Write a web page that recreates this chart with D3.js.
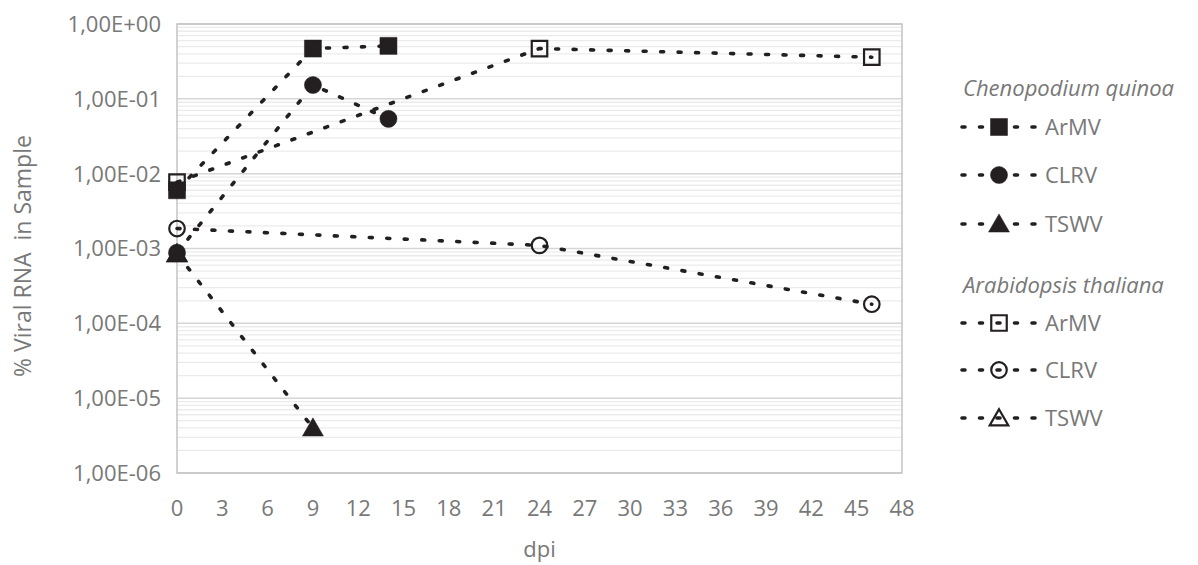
<!DOCTYPE html>
<html>
<head>
<meta charset="utf-8">
<script src="https://cdn.jsdelivr.net/npm/d3@7"></script>
<style>
  body { margin: 0; background: #fff; }
  text { font-family: "Open Sans", Lato, sans-serif; fill: #787878; }
</style>
</head>
<body>
<svg id="chart" width="1198" height="565"></svg>
<script>
// Chenopodium quinoa series
var quinoaArmvDpi = [0, 9, 14];
var quinoaArmvVal = [6.0e-3, 0.47, 0.51];
var quinoaClrvDpi = [0, 9, 14];
var quinoaClrvVal = [8.8e-4, 0.153, 0.054];
var quinoaTswvDpi = [0, 9];
var quinoaTswvVal = [8.5e-4, 4.0e-6];

// Arabidopsis thaliana series
var arabArmvDpi = [0, 24, 46];
var arabArmvVal = [7.7e-3, 0.47, 0.36];
var arabClrvDpi = [0, 24, 46];
var arabClrvVal = [1.85e-3, 1.1e-3, 1.8e-4];
var arabTswvDpi = [0];
var arabTswvVal = [8.5e-4];

// Axis ticks
var xTickValues = [0, 3, 6, 9, 12, 15, 18, 21, 24, 27, 30, 33, 36, 39, 42, 45, 48];
var yTickValues = [1, 1e-1, 1e-2, 1e-3, 1e-4, 1e-5, 1e-6];
var yTickLabels = ["1,00E+00", "1,00E-01", "1,00E-02", "1,00E-03", "1,00E-04", "1,00E-05", "1,00E-06"];

var svg = d3.select("#chart");
var plotLeft = 177, plotRight = 902, plotTop = 24, plotBottom = 473;

var x = d3.scaleLinear().domain([0, 48]).range([plotLeft, plotRight]);
var y = d3.scaleLog().domain([1e-6, 1]).range([plotBottom, plotTop]);

var ink = "#231f20";

// minor gridlines (2..9 in each decade)
var minor = [];
yTickValues.slice(0, 6).forEach(function(d) {
    for (var k = 2; k <= 9; k++) minor.push(d / 10 * k);
});
svg.append("g").selectAll("line")
    .data(minor)
  .enter().append("line")
    .attr("x1", plotLeft).attr("x2", plotRight)
    .attr("y1", function(d) { return y(d); })
    .attr("y2", function(d) { return y(d); })
    .attr("stroke", "#ebebeb")
    .attr("stroke-width", 1.3);

// major gridlines
svg.append("g").selectAll("line")
    .data(yTickValues)
  .enter().append("line")
    .attr("x1", plotLeft).attr("x2", plotRight)
    .attr("y1", function(d) { return y(d); })
    .attr("y2", function(d) { return y(d); })
    .attr("stroke", "#d6d6d6")
    .attr("stroke-width", 1.5);

// plot border
svg.append("rect")
    .attr("x", plotLeft).attr("y", plotTop)
    .attr("width", plotRight - plotLeft).attr("height", plotBottom - plotTop)
    .attr("fill", "none")
    .attr("stroke", "#c4c4c4")
    .attr("stroke-width", 1.5);

// y tick labels
svg.append("g").selectAll("text")
    .data(yTickValues)
  .enter().append("text")
    .attr("x", 161)
    .attr("y", function(d) { return y(d); })
    .attr("dy", "0.36em")
    .attr("text-anchor", "end")
    .style("font-size", "22px")
    .text(function(d, i) { return yTickLabels[i]; });

// x tick labels
svg.append("g").selectAll("text")
    .data(xTickValues)
  .enter().append("text")
    .attr("x", function(d) { return x(d); })
    .attr("y", 516)
    .attr("text-anchor", "middle")
    .style("font-size", "22px")
    .text(function(d) { return d; });

// axis titles
svg.append("text")
    .attr("x", x(24)).attr("y", 557)
    .attr("text-anchor", "middle")
    .style("font-size", "22px")
    .text("dpi");

svg.append("text")
    .attr("transform", "translate(31,256) rotate(-90)")
    .attr("text-anchor", "middle")
    .style("font-size", "23px")
    .style("white-space", "pre")
    .text("% Viral RNA  in Sample");

// series
var series = [
    { name: "ArMV", dpi: quinoaArmvDpi, val: quinoaArmvVal, shape: d3.symbolSquare, open: false },
    { name: "CLRV", dpi: quinoaClrvDpi, val: quinoaClrvVal, shape: d3.symbolCircle, open: false },
    { name: "TSWV", dpi: quinoaTswvDpi, val: quinoaTswvVal, shape: d3.symbolTriangle, open: false },
    { name: "ArMV", dpi: arabArmvDpi, val: arabArmvVal, shape: d3.symbolSquare, open: true },
    { name: "CLRV", dpi: arabClrvDpi, val: arabClrvVal, shape: d3.symbolCircle, open: true },
    { name: "TSWV", dpi: arabTswvDpi, val: arabTswvVal, shape: d3.symbolTriangle, open: true }
];

function markerSize(s) {
    if (s.shape === d3.symbolSquare) return s.open ? 240 : 290;
    if (s.shape === d3.symbolCircle) return s.open ? 190 : 230;
    return s.open ? 150 : 190;
}

function drawMarker(g, s, cx, cy) {
    var isTri = s.shape === d3.symbolTriangle;
    g.append("path")
        .attr("d", d3.symbol().type(s.shape).size(markerSize(s))())
        .attr("transform", "translate(" + cx + "," + (cy + (isTri ? 2 : 0)) + ")")
        .attr("fill", s.open ? "none" : ink)
        .attr("stroke", ink)
        .attr("stroke-width", s.open ? 2.2 : 0.5);
}

var line = d3.line()
    .x(function(d) { return x(d[0]); })
    .y(function(d) { return y(d[1]); });

series.slice().reverse().forEach(function(s) {
    var pts = s.dpi.map(function(d, i) { return [d, s.val[i]]; });
    var g = svg.append("g");
    if (pts.length > 1) {
        g.append("path")
            .attr("d", line(pts))
            .attr("fill", "none")
            .attr("stroke", ink)
            .attr("stroke-width", 3.6)
            .attr("stroke-linecap", "round")
            .attr("stroke-dasharray", "3,14.5");
    }
    pts.forEach(function(p) { drawMarker(g, s, x(p[0]), y(p[1])); });
});

// legend
var legend = svg.append("g");
var headers = [
    { text: "Chenopodium quinoa", y: 96 },
    { text: "Arabidopsis thaliana", y: 293 }
];
var rowY = [127, 175, 224, 323, 370, 418];
headers.forEach(function(h) {
    legend.append("text")
        .attr("x", 963).attr("y", h.y)
        .style("font-size", "22px")
        .style("font-style", "italic")
        .text(h.text);
});
series.forEach(function(s, i) {
    var ry = rowY[i];
    legend.append("line")
        .attr("x1", 962).attr("x2", 1037)
        .attr("y1", ry).attr("y2", ry)
        .attr("stroke", ink)
        .attr("stroke-width", 3.6)
        .attr("stroke-linecap", "round")
        .attr("stroke-dasharray", "3,14.5");
    drawMarker(legend, s, 999, ry);
    legend.append("text")
        .attr("x", 1045).attr("y", ry)
        .attr("dy", "0.36em")
        .style("font-size", "22px")
        .text(s.name);
});
</script>
</body>
</html>
